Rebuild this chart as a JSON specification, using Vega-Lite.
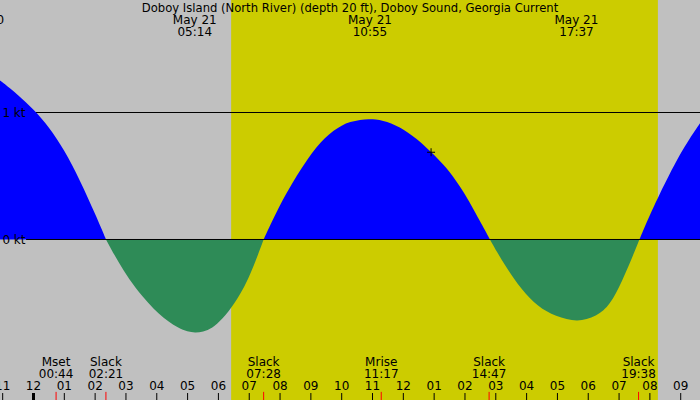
{
  "$schema": "https://vega.github.io/schema/vega-lite/v6.json",
  "width": 700,
  "height": 400,
  "autosize": {"type": "none"},
  "padding": 0,
  "background": "#C0C0C0",
  "config": {"view": {"stroke": null}, "font": "DejaVu Sans"},
  "datasets": {
    "daylight": [{"t": 6.413, "t2": 20.26}],
    "current": [
      {"t": -1.087, "v": 1.252, "seg": "A", "kind": "flood"},
      {"t": -0.75, "v": 1.188, "seg": "A", "kind": "flood"},
      {"t": -0.5, "v": 1.137, "seg": "A", "kind": "flood"},
      {"t": -0.25, "v": 1.082, "seg": "A", "kind": "flood"},
      {"t": 0.0, "v": 1.022, "seg": "A", "kind": "flood"},
      {"t": 0.25, "v": 0.956, "seg": "A", "kind": "flood"},
      {"t": 0.5, "v": 0.881, "seg": "A", "kind": "flood"},
      {"t": 0.75, "v": 0.796, "seg": "A", "kind": "flood"},
      {"t": 1.0, "v": 0.698, "seg": "A", "kind": "flood"},
      {"t": 1.25, "v": 0.588, "seg": "A", "kind": "flood"},
      {"t": 1.5, "v": 0.466, "seg": "A", "kind": "flood"},
      {"t": 1.75, "v": 0.336, "seg": "A", "kind": "flood"},
      {"t": 2.0, "v": 0.2, "seg": "A", "kind": "flood"},
      {"t": 2.2, "v": 0.089, "seg": "A", "kind": "flood"},
      {"t": 2.352, "v": 0, "seg": "A", "kind": "flood"},

      {"t": 2.352, "v": 0, "seg": "B", "kind": "ebb"},
      {"t": 2.612, "v": -0.118, "seg": "B", "kind": "ebb"},
      {"t": 2.914, "v": -0.242, "seg": "B", "kind": "ebb"},
      {"t": 3.293, "v": -0.378, "seg": "B", "kind": "ebb"},
      {"t": 3.757, "v": -0.51, "seg": "B", "kind": "ebb"},
      {"t": 4.05, "v": -0.582, "seg": "B", "kind": "ebb"},
      {"t": 4.374, "v": -0.646, "seg": "B", "kind": "ebb"},
      {"t": 4.7, "v": -0.698, "seg": "B", "kind": "ebb"},
      {"t": 5.0, "v": -0.726, "seg": "B", "kind": "ebb"},
      {"t": 5.24, "v": -0.734, "seg": "B", "kind": "ebb"},
      {"t": 5.5, "v": -0.728, "seg": "B", "kind": "ebb"},
      {"t": 5.8, "v": -0.698, "seg": "B", "kind": "ebb"},
      {"t": 6.106, "v": -0.635, "seg": "B", "kind": "ebb"},
      {"t": 6.538, "v": -0.5, "seg": "B", "kind": "ebb"},
      {"t": 6.862, "v": -0.363, "seg": "B", "kind": "ebb"},
      {"t": 7.0, "v": -0.29, "seg": "B", "kind": "ebb"},
      {"t": 7.15, "v": -0.204, "seg": "B", "kind": "ebb"},
      {"t": 7.3, "v": -0.11, "seg": "B", "kind": "ebb"},
      {"t": 7.467, "v": 0, "seg": "B", "kind": "ebb"},

      {"t": 7.467, "v": 0, "seg": "C", "kind": "flood"},
      {"t": 7.7, "v": 0.125, "seg": "C", "kind": "flood"},
      {"t": 7.95, "v": 0.248, "seg": "C", "kind": "flood"},
      {"t": 8.2, "v": 0.362, "seg": "C", "kind": "flood"},
      {"t": 8.45, "v": 0.466, "seg": "C", "kind": "flood"},
      {"t": 8.647, "v": 0.543, "seg": "C", "kind": "flood"},
      {"t": 8.9, "v": 0.636, "seg": "C", "kind": "flood"},
      {"t": 9.19, "v": 0.73, "seg": "C", "kind": "flood"},
      {"t": 9.45, "v": 0.8, "seg": "C", "kind": "flood"},
      {"t": 9.728, "v": 0.858, "seg": "C", "kind": "flood"},
      {"t": 10.0, "v": 0.899, "seg": "C", "kind": "flood"},
      {"t": 10.27, "v": 0.926, "seg": "C", "kind": "flood"},
      {"t": 10.6, "v": 0.943, "seg": "C", "kind": "flood"},
      {"t": 10.886, "v": 0.949, "seg": "C", "kind": "flood"},
      {"t": 11.1, "v": 0.946, "seg": "C", "kind": "flood"},
      {"t": 11.35, "v": 0.935, "seg": "C", "kind": "flood"},
      {"t": 11.6, "v": 0.916, "seg": "C", "kind": "flood"},
      {"t": 11.89, "v": 0.882, "seg": "C", "kind": "flood"},
      {"t": 12.15, "v": 0.843, "seg": "C", "kind": "flood"},
      {"t": 12.43, "v": 0.793, "seg": "C", "kind": "flood"},
      {"t": 12.65, "v": 0.746, "seg": "C", "kind": "flood"},
      {"t": 12.9, "v": 0.689, "seg": "C", "kind": "flood"},
      {"t": 13.1, "v": 0.641, "seg": "C", "kind": "flood"},
      {"t": 13.3, "v": 0.59, "seg": "C", "kind": "flood"},
      {"t": 13.5, "v": 0.532, "seg": "C", "kind": "flood"},
      {"t": 13.73, "v": 0.456, "seg": "C", "kind": "flood"},
      {"t": 13.95, "v": 0.375, "seg": "C", "kind": "flood"},
      {"t": 14.2, "v": 0.272, "seg": "C", "kind": "flood"},
      {"t": 14.487, "v": 0.144, "seg": "C", "kind": "flood"},
      {"t": 14.65, "v": 0.072, "seg": "C", "kind": "flood"},
      {"t": 14.81, "v": 0, "seg": "C", "kind": "flood"},

      {"t": 14.81, "v": 0, "seg": "D", "kind": "ebb"},
      {"t": 15.05, "v": -0.103, "seg": "D", "kind": "ebb"},
      {"t": 15.3, "v": -0.203, "seg": "D", "kind": "ebb"},
      {"t": 15.57, "v": -0.303, "seg": "D", "kind": "ebb"},
      {"t": 15.85, "v": -0.394, "seg": "D", "kind": "ebb"},
      {"t": 16.1, "v": -0.462, "seg": "D", "kind": "ebb"},
      {"t": 16.37, "v": -0.521, "seg": "D", "kind": "ebb"},
      {"t": 16.65, "v": -0.567, "seg": "D", "kind": "ebb"},
      {"t": 16.95, "v": -0.602, "seg": "D", "kind": "ebb"},
      {"t": 17.3, "v": -0.628, "seg": "D", "kind": "ebb"},
      {"t": 17.63, "v": -0.641, "seg": "D", "kind": "ebb"},
      {"t": 17.95, "v": -0.63, "seg": "D", "kind": "ebb"},
      {"t": 18.25, "v": -0.6, "seg": "D", "kind": "ebb"},
      {"t": 18.5, "v": -0.56, "seg": "D", "kind": "ebb"},
      {"t": 18.7, "v": -0.505, "seg": "D", "kind": "ebb"},
      {"t": 18.9, "v": -0.425, "seg": "D", "kind": "ebb"},
      {"t": 19.1, "v": -0.325, "seg": "D", "kind": "ebb"},
      {"t": 19.3, "v": -0.215, "seg": "D", "kind": "ebb"},
      {"t": 19.5, "v": -0.097, "seg": "D", "kind": "ebb"},
      {"t": 19.66, "v": 0, "seg": "D", "kind": "ebb"},

      {"t": 19.66, "v": 0, "seg": "E", "kind": "flood"},
      {"t": 19.85, "v": 0.11, "seg": "E", "kind": "flood"},
      {"t": 20.05, "v": 0.22, "seg": "E", "kind": "flood"},
      {"t": 20.33, "v": 0.365, "seg": "E", "kind": "flood"},
      {"t": 20.6, "v": 0.497, "seg": "E", "kind": "flood"},
      {"t": 20.98, "v": 0.673, "seg": "E", "kind": "flood"},
      {"t": 21.3, "v": 0.8, "seg": "E", "kind": "flood"},
      {"t": 21.626, "v": 0.915, "seg": "E", "kind": "flood"}
    ],
    "now": [{"t": 12.9, "v": 0.687}],
    "heading": [{"t": 10.27, "label": "Doboy Island (North River) (depth 20 ft), Doboy Sound, Georgia Current"}],
    "hours": [
      {"t": -1, "h": "11"}, {"t": 0, "h": "12"}, {"t": 1, "h": "01"}, {"t": 2, "h": "02"},
      {"t": 3, "h": "03"}, {"t": 4, "h": "04"}, {"t": 5, "h": "05"}, {"t": 6, "h": "06"},
      {"t": 7, "h": "07"}, {"t": 8, "h": "08"}, {"t": 9, "h": "09"}, {"t": 10, "h": "10"},
      {"t": 11, "h": "11"}, {"t": 12, "h": "12"}, {"t": 13, "h": "01"}, {"t": 14, "h": "02"},
      {"t": 15, "h": "03"}, {"t": 16, "h": "04"}, {"t": 17, "h": "05"}, {"t": 18, "h": "06"},
      {"t": 19, "h": "07"}, {"t": 20, "h": "08"}, {"t": 21, "h": "09"}
    ],
    "peaks": [
      {"t": -1.667, "date": "May 20", "time": "22:20"},
      {"t": 5.233, "date": "May 21", "time": "05:14"},
      {"t": 10.917, "date": "May 21", "time": "10:55"},
      {"t": 17.617, "date": "May 21", "time": "17:37"}
    ],
    "events": [
      {"t": 0.733, "name": "Mset", "time": "00:44"},
      {"t": 2.35, "name": "Slack", "time": "02:21"},
      {"t": 7.467, "name": "Slack", "time": "07:28"},
      {"t": 11.283, "name": "Mrise", "time": "11:17"},
      {"t": 14.783, "name": "Slack", "time": "14:47"},
      {"t": 19.633, "name": "Slack", "time": "19:38"}
    ]
  },
  "layer": [
    {
      "data": {"name": "daylight"},
      "mark": {"type": "rect", "color": "#CCCC00"},
      "encoding": {
        "x": {
          "field": "t",
          "type": "quantitative",
          "scale": {"domain": [-1.087, 21.626], "nice": false, "zero": false},
          "axis": null
        },
        "x2": {"field": "t2"}
      }
    },
    {
      "data": {"values": [{}]},
      "mark": {"type": "rule", "color": "black", "strokeWidth": 1},
      "encoding": {"y": {"datum": 1, "type": "quantitative"}}
    },
    {
      "data": {"name": "current"},
      "mark": {"type": "area", "interpolate": "basis"},
      "encoding": {
        "x": {"field": "t", "type": "quantitative", "axis": null},
        "y": {
          "field": "v",
          "type": "quantitative",
          "stack": null,
          "scale": {"domain": [-1.264, 1.886], "nice": false, "zero": false},
          "axis": {
            "orient": "left",
            "offset": -25,
            "values": [0, 1],
            "title": null,
            "domain": false,
            "ticks": false,
            "tickSize": 0,
            "grid": false,
            "zindex": 1,
            "labelPadding": 0,
            "labelExpr": "datum.value + ' kt'",
            "labelFont": "DejaVu Sans",
            "labelFontSize": 12,
            "labelColor": "black"
          }
        },
        "y2": {"datum": 0},
        "color": {
          "field": "kind",
          "type": "nominal",
          "scale": {"domain": ["flood", "ebb"], "range": ["#0000FF", "#2E8B57"]},
          "legend": null
        },
        "detail": {"field": "seg"}
      }
    },
    {
      "data": {"values": [{}]},
      "mark": {"type": "rule", "color": "black", "strokeWidth": 1},
      "encoding": {
        "y": {"datum": 0, "type": "quantitative"},
        "x": {"datum": -0.24, "type": "quantitative"},
        "x2": {"datum": 21.626}
      }
    },
    {
      "data": {"name": "hours"},
      "mark": {"type": "rule", "color": "black"},
      "encoding": {
        "x": {"field": "t", "type": "quantitative"},
        "y": {"datum": -1.209, "type": "quantitative"},
        "y2": {"datum": -1.264},
        "strokeWidth": {"condition": {"test": "datum.t == 0", "value": 3}, "value": 1}
      }
    },
    {
      "data": {"name": "events"},
      "mark": {"type": "rule", "color": "#FF0000", "strokeWidth": 1},
      "encoding": {
        "x": {"field": "t", "type": "quantitative"},
        "y": {"datum": -1.2, "type": "quantitative"},
        "y2": {"datum": -1.264}
      }
    },
    {
      "data": {"name": "hours"},
      "mark": {"type": "text", "align": "center", "baseline": "alphabetic", "font": "DejaVu Sans", "fontSize": 12, "color": "black"},
      "encoding": {
        "x": {"field": "t", "type": "quantitative"},
        "y": {"value": 390},
        "text": {"field": "h"}
      }
    },
    {
      "data": {"name": "now"},
      "mark": {"type": "point", "shape": "M-1,0H1M0,-1V1", "size": 64, "filled": false, "stroke": "black", "strokeWidth": 1, "opacity": 1},
      "encoding": {
        "x": {"field": "t", "type": "quantitative"},
        "y": {"field": "v", "type": "quantitative"}
      }
    },
    {
      "data": {"name": "heading"},
      "mark": {"type": "text", "align": "center", "baseline": "alphabetic", "font": "DejaVu Sans", "fontSize": 11.6, "color": "black"},
      "encoding": {
        "x": {"field": "t", "type": "quantitative"},
        "y": {"value": 11.7},
        "text": {"field": "label"}
      }
    },
    {
      "data": {"name": "peaks"},
      "mark": {"type": "text", "align": "center", "baseline": "alphabetic", "font": "DejaVu Sans", "fontSize": 12, "color": "black"},
      "encoding": {
        "x": {"field": "t", "type": "quantitative"},
        "y": {"value": 24},
        "text": {"field": "date"}
      }
    },
    {
      "data": {"name": "peaks"},
      "mark": {"type": "text", "align": "center", "baseline": "alphabetic", "font": "DejaVu Sans", "fontSize": 12, "color": "black"},
      "encoding": {
        "x": {"field": "t", "type": "quantitative"},
        "y": {"value": 35.7},
        "text": {"field": "time"}
      }
    },
    {
      "data": {"name": "events"},
      "mark": {"type": "text", "align": "center", "baseline": "alphabetic", "font": "DejaVu Sans", "fontSize": 12, "color": "black"},
      "encoding": {
        "x": {"field": "t", "type": "quantitative"},
        "y": {"value": 366},
        "text": {"field": "name"}
      }
    },
    {
      "data": {"name": "events"},
      "mark": {"type": "text", "align": "center", "baseline": "alphabetic", "font": "DejaVu Sans", "fontSize": 12, "color": "black"},
      "encoding": {
        "x": {"field": "t", "type": "quantitative"},
        "y": {"value": 377.7},
        "text": {"field": "time"}
      }
    }
  ]
}
